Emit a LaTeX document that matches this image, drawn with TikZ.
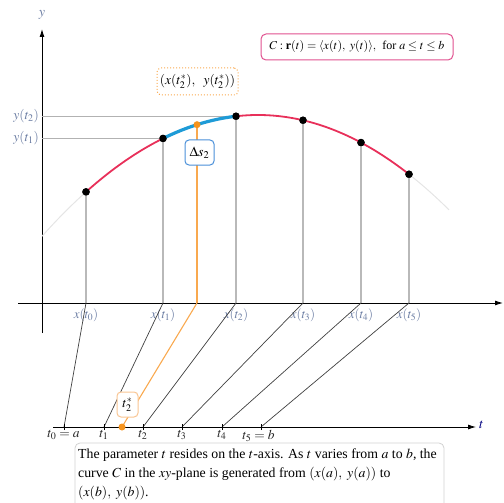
\documentclass[tikz,border=0pt]{standalone}
\usepackage{mathptmx}
\usepackage{fontspec}
\setmainfont{Liberation Serif}
\usetikzlibrary{arrows.meta}
\definecolor{crv}{HTML}{E8305A}
\definecolor{blu}{HTML}{1E9BD7}
\definecolor{org}{HTML}{F7941D}
\definecolor{orgl}{HTML}{F9A94F}
\definecolor{lbl}{HTML}{6B7DA3}
\definecolor{pinkb}{HTML}{E0508F}
\definecolor{blub}{HTML}{4A90D9}
\definecolor{tbox}{HTML}{F9C592}
\def\cy#1{115+26*((#1-258)/100)^2}
\tikzset{
  axisline/.style={black, line width=0.9pt},
  dot/.style={circle, fill=black, inner sep=0pt, minimum size=7.5pt},
  odot/.style={circle, fill=org, inner sep=0pt, minimum size=7pt},
  vline/.style={gray!55, line width=1.4pt},
  hline/.style={gray!60, line width=1.2pt},
  diag/.style={black!75, line width=0.7pt},
  xlab/.style={text=lbl, font=\fontsize{13}{15}\selectfont, inner sep=0pt},
  tlab/.style={text=black!85, font=\fontsize{13.5}{15}\selectfont, inner sep=0pt, anchor=north},
  tick/.style={black, line width=0.8pt},
}
\begin{document}
\begin{tikzpicture}[x=1pt,y=-1pt]
\useasboundingbox (0,0) rectangle (504,503);
\clip (0,0) rectangle (504,503);
% axes
\coordinate (ytop) at (42,29);
\coordinate (ybot) at (42,333);
\coordinate (xl) at (18,303);
\coordinate (xr) at (503,303);
\draw[axisline,-{Latex[length=8pt,width=5pt]}] (ybot) -- (ytop);
\draw[axisline,-{Latex[length=8pt,width=5pt]}] (xl) -- (xr);
\node[text=lbl, font=\fontsize{14}{16}\selectfont, inner sep=0pt] (ylab) at (42,15) {$y$};
% curve points
\node[dot] (P0) at (86,{\cy{86}}) {};
\node[dot] (P1) at (163,{\cy{163}}) {};
\node[dot] (P2) at (236,{\cy{236}}) {};
\node[dot] (P3) at (303,{\cy{303}}) {};
\node[dot] (P4) at (361,{\cy{361}}) {};
\node[dot] (P5) at (409,{\cy{409}}) {};
\coordinate (S) at (197,{\cy{197}});
% feet on x-axis
\coordinate (X0) at (86,303);
\coordinate (X1) at (163,303);
\coordinate (XS) at (197,303);
\coordinate (X2) at (236,303);
\coordinate (X3) at (303,303);
\coordinate (X4) at (361,303);
\coordinate (X5) at (409,303);
% t-axis points
\coordinate (T0) at (64,427);
\coordinate (T1) at (104,427);
\coordinate (TS) at (122,427);
\coordinate (T2) at (143,427);
\coordinate (T3) at (182,427);
\coordinate (T4) at (222,427);
\coordinate (T5) at (261,427);
\coordinate (tl) at (53,427);
\coordinate (tr) at (476,427);
% horizontal guide lines
\coordinate (Y2) at (42,{\cy{236}});
\coordinate (Y1) at (42,{\cy{163}});
\draw[hline] (Y2) -- (P2.center);
\draw[hline] (Y1) -- (P1.center);
\node[xlab, anchor=east, font=\fontsize{13.5}{15}\selectfont] (ly2) at (39,{\cy{236}}) {$y(t_2)$};
\node[xlab, anchor=east, font=\fontsize{13.5}{15}\selectfont] (ly1) at (39,{\cy{163}}) {$y(t_1)$};
% vertical lines
\foreach \i in {0,...,5} \draw[vline] (P\i.center) -- (X\i);
\draw[orgl, line width=1.1pt] (S) -- (XS);
% curve
\draw[gray!20, line width=1pt] plot[domain=42:86, samples=30] (\x,{\cy{\x}});
\draw[gray!20, line width=1pt] plot[domain=409:449, samples=30] (\x,{\cy{\x}});
\draw[crv, line width=1.8pt] plot[domain=86:163, samples=40] (\x,{\cy{\x}});
\draw[crv, line width=1.8pt] plot[domain=236:409, samples=60] (\x,{\cy{\x}});
\draw[blu, line width=3.2pt] plot[domain=163:236, samples=40] (\x,{\cy{\x}});
% redraw dots on top
\foreach \i in {0,...,5} \fill (P\i) circle (3.7pt);
\node[odot] (Sd) at (S) {};
% x labels
\node[xlab] (lx0) at (86,315) {$x(t_0)$};
\node[xlab] (lx1) at (163,315) {$x(t_1)$};
\node[xlab] (lx2) at (236,315) {$x(t_2)$};
\node[xlab] (lx3) at (303,315) {$x(t_3)$};
\node[xlab] (lx4) at (361,315) {$x(t_4)$};
\node[xlab] (lx5) at (409,315) {$x(t_5)$};
% t-axis
\draw[axisline, line width=0.8pt, -{Latex[length=8pt,width=5pt]}] (tl) -- (tr);
\node[text=blue!50!black, font=\fontsize{14}{16}\selectfont, inner sep=0pt, anchor=west] (tlab) at (479,425) {$t$};
% diagonals
\draw[diag] (X0) -- (T0);
\draw[diag] (X1) -- (T1);
\draw[diag] (X2) -- (T2);
\draw[diag] (X3) -- (T3);
\draw[diag] (X4) -- (T4);
\draw[diag] (X5) -- (T5);
\draw[orgl, line width=1.1pt] (XS) -- (TS);
\foreach \p in {T0,T1,T2,T3,T4,T5} \draw[tick] ([yshift=-3pt]\p) -- ([yshift=3pt]\p);
\node[odot] (TSd) at (TS) {};
% tick labels
\node[tlab] (lt0) at (63.5,430) {$t_0=a$};
\node[tlab] (lt1) at (104,430) {$t_1$};
\node[tlab] (lt2) at (143,430) {$t_2$};
\node[tlab] (lt3) at (182,430) {$t_3$};
\node[tlab] (lt4) at (222,430) {$t_4$};
\node[tlab] (lt5) at (258.5,430) {$t_5=b$};
% t2* box
\node[draw=tbox, line width=1pt, fill=white, rounded corners=4pt, minimum width=21pt, minimum height=25pt, inner sep=1pt, font=\fontsize{13.5}{15}\selectfont] (ts) at (127.5,404.5) {$t_2^*$};
% labels boxes
\node[draw=blub, line width=1pt, fill=white, rounded corners=4pt, minimum width=29pt, minimum height=25pt, inner sep=1pt, font=\fontsize{14}{16}\selectfont] (ds) at (199.5,152.5) {$\Delta s_2$};
\node[draw=orgl, dotted, line width=1pt, rounded corners=4pt, minimum width=81pt, minimum height=27pt, inner sep=1pt, font=\fontsize{13.5}{15}\selectfont] (pt) at (197.5,81.5) {$(x(t_2^*),\ \ y(t_2^*))$};
\node[draw=pinkb, line width=1pt, rounded corners=5pt, minimum width=192pt, minimum height=26pt, inner sep=1pt, font=\fontsize{12}{14}\selectfont] (cb) at (357,47) {$C:\mathbf{r}(t)=\langle x(t),\ y(t)\rangle,$\ \ for $a\leq t\leq b$};
% caption
\draw[gray!35, line width=0.8pt, fill=white, rounded corners=5pt] (75,443) rectangle (444,530);
\node[anchor=north west, inner sep=0pt, align=left, font=\fontsize{13.8}{19}\selectfont] (cap) at (78,449)
{The parameter $t$ resides on the $t$-axis. As $t$ varies from $a$ to $b$, the\\
curve $C$ in the $xy$-plane is generated from $(x(a),\ y(a))$ to\\
$(x(b),\ y(b))$.};
\end{tikzpicture}
\end{document}
